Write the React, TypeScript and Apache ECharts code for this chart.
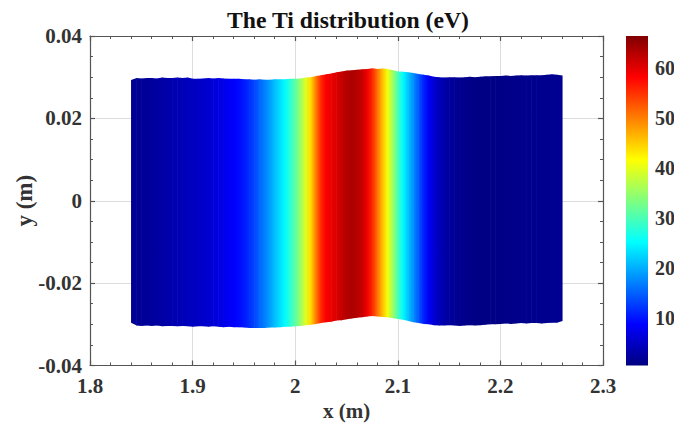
import React, { useEffect, useRef } from "react";
import * as echarts from "echarts";

const FONT = '"Liberation Serif", "Times New Roman", serif';
const TEXT = "#333333";
const xStart = 1.84;
const xStep = 0.005;
const tiValues = [
  1.5, 1.7, 1.8, 2.0, 2.2, 2.5, 2.8, 3.1, 3.4, 3.7,
  4.0, 4.3, 4.6, 4.9, 5.2, 5.6, 6.0, 6.6, 7.2, 7.8,
  8.5, 9.2, 10.2, 11.5, 13, 15, 16.8, 18.8, 21, 23,
  25, 28, 31, 35, 39.5, 44, 50, 55.5, 58.5, 59.5,
  60.5, 62, 63, 63.7, 63, 62, 59.5, 56, 51, 46,
  41, 35.5, 30, 25, 21.5, 18, 14.5, 11, 8, 6,
  4.3, 3.1, 2.4, 1.8, 1.4, 1.1, 0.9, 0.8, 0.7, 0.7,
  0.7, 0.8, 0.8, 0.9, 1.0, 1.1, 1.1, 1.2, 1.3, 1.3,
  1.4, 1.4, 1.5, 1.5, 1.6,
];
const yTop = [
  0.0293, 0.0298, 0.0297, 0.0298, 0.0298, 0.0297, 0.0299, 0.0298, 0.0298, 0.0299,
  0.0298, 0.0299, 0.0296, 0.0296, 0.0297, 0.0298, 0.0297, 0.0298, 0.0297, 0.0296,
  0.0296, 0.0296, 0.0295, 0.0295, 0.0294, 0.0295, 0.0294, 0.0294, 0.0295, 0.0295,
  0.0295, 0.0296, 0.0296, 0.0297, 0.0299, 0.03, 0.0303, 0.0305, 0.0307, 0.0309,
  0.0312, 0.0314, 0.0316, 0.0317, 0.0318, 0.0319, 0.032, 0.0322, 0.032, 0.0321,
  0.032, 0.0317, 0.0314, 0.0313, 0.0312, 0.031, 0.0308, 0.0306, 0.0304, 0.0301,
  0.03, 0.0299, 0.03, 0.03, 0.0299, 0.03, 0.0301, 0.03, 0.0301, 0.0302,
  0.0302, 0.0303, 0.0303, 0.0304, 0.0303, 0.0304, 0.0305, 0.0304, 0.0305, 0.0305,
  0.0305, 0.0306, 0.0307, 0.0306, 0.0304,
];
const yBottom = [
  -0.0296, -0.0303, -0.0304, -0.0303, -0.0304, -0.0303, -0.0305, -0.0304, -0.0304, -0.0305,
  -0.0304, -0.0305, -0.0306, -0.0305, -0.0305, -0.0306, -0.0305, -0.0306, -0.0307, -0.0306,
  -0.0307, -0.0307, -0.0308, -0.0309, -0.0309, -0.0309, -0.0309, -0.0308, -0.0308, -0.0307,
  -0.0306, -0.0306, -0.0305, -0.0304, -0.0302, -0.0301, -0.0299, -0.0297, -0.0295, -0.0294,
  -0.0291, -0.029, -0.0288, -0.0286, -0.0284, -0.0283, -0.0281, -0.028, -0.0281, -0.0282,
  -0.0283, -0.0285, -0.0287, -0.0289, -0.0292, -0.0295, -0.0297, -0.0299, -0.03, -0.0302,
  -0.0303, -0.0303, -0.0302, -0.0303, -0.0304, -0.0303, -0.0302, -0.0303, -0.0302, -0.0301,
  -0.03, -0.03, -0.0299, -0.0298, -0.0299, -0.0298, -0.0297, -0.0298, -0.0297, -0.0297,
  -0.0298, -0.0297, -0.0296, -0.0296, -0.0292,
];
const barMin = 0.4;
const barMax = 66.5;
const barTicks = [10, 20, 30, 40, 50, 60];
const jetStops = [
  { offset: 0, color: "#000080" },
  { offset: 0.125, color: "#0000ff" },
  { offset: 0.375, color: "#00ffff" },
  { offset: 0.625, color: "#ffff00" },
  { offset: 0.875, color: "#ff0000" },
  { offset: 1, color: "#800000" },
];

function jet(v: number): string {
  const t = Math.min(1, Math.max(0, (v - barMin) / (barMax - barMin)));
  for (let i = 1; i < jetStops.length; i++) {
    if (t <= jetStops[i].offset) {
      const a = jetStops[i - 1];
      const b = jetStops[i];
      return echarts.color.lerp((t - a.offset) / (b.offset - a.offset), [a.color, b.color]) as string;
    }
  }
  return "#800000";
}

const cells = tiValues.slice(0, -1).map((ti, i) => [
  xStart + i * xStep,
  xStart + (i + 1) * xStep,
  ti,
  tiValues[i + 1],
  yTop[i],
  yTop[i + 1],
  yBottom[i],
  yBottom[i + 1],
]);

const edge = { lineStyle: { color: "#555555", width: 1.2 } };
const labels = { fontFamily: FONT, fontWeight: "bold" as const, color: TEXT, fontSize: 21 };

export default function App() {
  const ref = useRef<HTMLDivElement>(null);
  useEffect(() => {
    document.body.style.margin = "0";
    document.body.style.background = "#ffffff";
    const chart = echarts.init(ref.current!, null, { renderer: "svg" });
    const xBase = {
      type: "value" as const, gridIndex: 0, min: 1.8, max: 2.3, interval: 0.1,
      axisLine: { show: true, onZero: false, ...edge },
      axisTick: { show: true, inside: true, length: 5, ...edge },
      minorTick: { show: true, splitNumber: 5, length: 3, lineStyle: { color: "#555555", width: 1 } },
    };
    const yBase = {
      type: "value" as const, gridIndex: 0, min: -0.04, max: 0.04, interval: 0.02,
      axisLine: { show: true, onZero: false, ...edge },
      axisTick: { show: true, inside: true, length: 5, ...edge },
      minorTick: { show: true, splitNumber: 4, length: 3, lineStyle: { color: "#555555", width: 1 } },
    };
    chart.setOption({
      animation: false,
      backgroundColor: "#ffffff",
      title: {
        text: "The Ti distribution (eV)", left: 343, top: 3, textAlign: "center",
        textStyle: { fontFamily: FONT, fontWeight: "bold", color: "#111111", fontSize: 23.7 },
      },
      grid: [
        { left: 90, top: 36, width: 513, height: 329.5, outerBoundsMode: "none" },
        { left: 626, top: 36, width: 22, height: 329.5, outerBoundsMode: "none" },
      ],
      xAxis: [
        {
          ...xBase, position: "bottom",
          name: "x (m)", nameLocation: "middle", nameGap: 35, nameMoveOverlap: false,
          nameTextStyle: { ...labels, fontSize: 21 },
          axisLabel: { ...labels, margin: 10 },
          splitLine: { show: true, lineStyle: { color: "#dddddd", width: 1 } },
        },
        { ...xBase, position: "top", axisLabel: { show: false }, splitLine: { show: false } },
        { type: "value", gridIndex: 1, min: 0, max: 1, show: false },
      ],
      yAxis: [
        {
          ...yBase, position: "left",
          name: "y (m)", nameLocation: "middle", nameGap: 54, nameMoveOverlap: false,
          nameTextStyle: { ...labels, fontSize: 23 },
          axisLabel: { ...labels, margin: 8 },
          splitLine: { show: true, lineStyle: { color: "#dddddd", width: 1 } },
        },
        { ...yBase, position: "right", axisLabel: { show: false }, splitLine: { show: false } },
        {
          type: "value", gridIndex: 1, min: barMin, max: barMax, position: "right",
          axisLine: { show: false }, axisTick: { show: false }, splitLine: { show: false },
          axisLabel: { ...labels, fontSize: 20, margin: 7, customValues: barTicks },
        },
      ],
      series: [
        {
          type: "custom", xAxisIndex: 0, yAxisIndex: 0, clip: true, silent: true,
          data: cells,
          encode: { x: [0, 1], y: [4, 5, 6, 7] },
          renderItem: (_p: any, api: any) => {
            const a = api.coord([api.value(0), api.value(4)]);
            const b = api.coord([api.value(1), api.value(5)]);
            const c = api.coord([api.value(1), api.value(7)]);
            const d = api.coord([api.value(0), api.value(6)]);
            return {
              type: "polygon",
              shape: { points: [a, [b[0] + 0.6, b[1]], [c[0] + 0.6, c[1]], d] },
              style: {
                fill: new echarts.graphic.LinearGradient(a[0], 0, b[0], 0, [
                  { offset: 0, color: jet(api.value(2)) },
                  { offset: 1, color: jet(api.value(3)) },
                ], true),
              },
            };
          },
        },
        {
          type: "custom", xAxisIndex: 2, yAxisIndex: 2, clip: false, silent: true,
          data: [[0, 1, barMin, barMax]],
          encode: { x: [0, 1], y: [2, 3] },
          renderItem: (_p: any, api: any) => {
            const a = api.coord([api.value(0), api.value(3)]);
            const b = api.coord([api.value(1), api.value(2)]);
            return {
              type: "rect",
              shape: { x: a[0], y: a[1], width: b[0] - a[0], height: b[1] - a[1] },
              style: {
                fill: new echarts.graphic.LinearGradient(0, 1, 0, 0, jetStops),
              },
            };
          },
        },
      ],
    });
    return () => chart.dispose();
  }, []);
  return <div ref={ref} style={{ width: 674, height: 423 }} />;
}
